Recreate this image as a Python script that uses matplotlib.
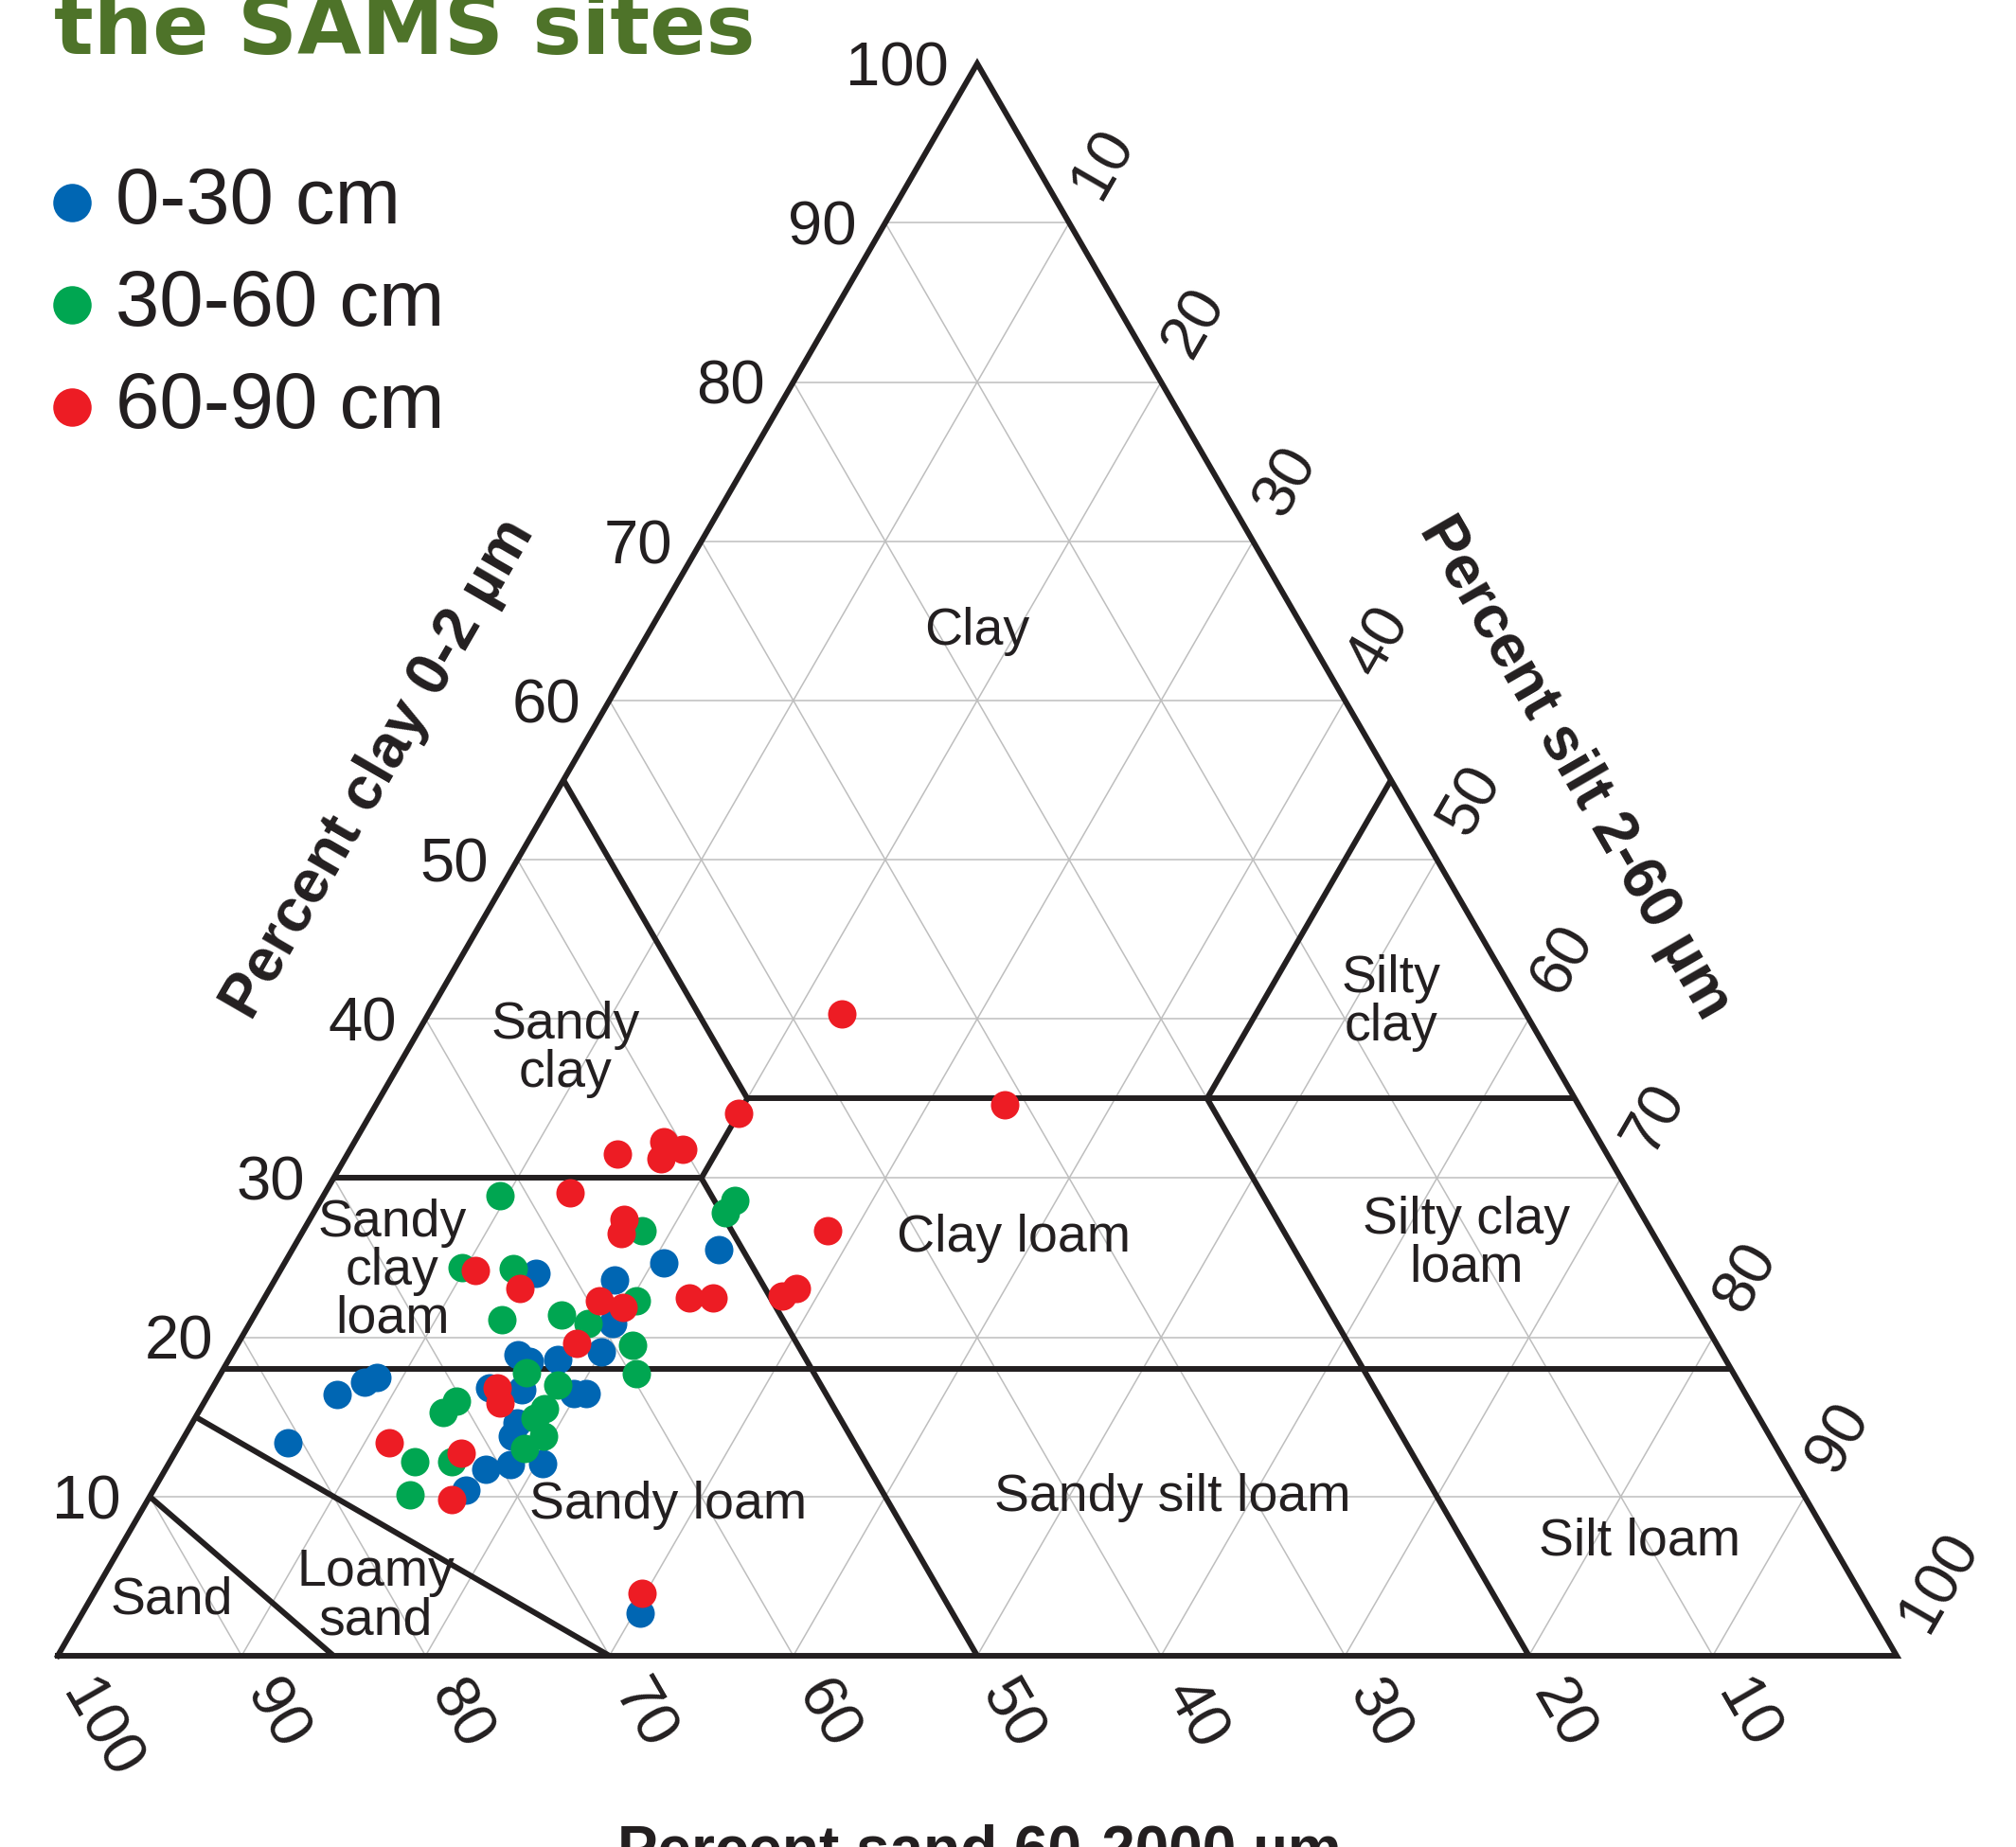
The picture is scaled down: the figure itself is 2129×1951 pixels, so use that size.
import numpy as np
import matplotlib.pyplot as plt

plt.rcParams['font.family'] = ['Liberation Sans', 'DejaVu Sans']

# percent clay (0-2 um) and percent sand (60-2000 um) per sample, silt is the rest
clay_0_30 = [25.5, 24.7, 24.0, 23.6, 20.9, 19.1, 18.6, 18.9, 18.5, 17.5, 17.2, 16.4,
             13.4, 16.8, 16.7, 16.5, 16.5, 14.6, 13.8, 11.7, 12.0, 12.1, 10.4, 2.7]
sand_0_30 = [51.3, 54.7, 62.0, 57.9, 59.4, 60.9, 63.5, 65.5, 65.1, 73.9, 74.7, 76.6,
             80.8, 68.1, 66.4, 63.7, 63.0, 67.7, 68.4, 70.9, 69.4, 67.6, 72.6, 67.0]

clay_30_60 = [28.9, 28.6, 27.8, 26.7, 24.4, 24.3, 22.3, 21.1, 21.4, 20.9, 19.5, 17.7,
              17.8, 17.0, 16.0, 15.3, 15.5, 13.8, 13.0, 12.2, 12.2, 10.1, 14.9]
sand_30_60 = [61.5, 48.9, 49.8, 54.9, 65.8, 63.1, 57.4, 65.3, 61.9, 60.7, 59.0, 59.7,
              65.6, 64.3, 70.3, 71.4, 65.8, 66.7, 68.1, 74.5, 72.5, 75.8, 66.6]

clay_60_90 = [40.3, 34.6, 34.1, 31.5, 32.3, 31.8, 31.2, 29.1, 27.4, 26.5, 26.7, 24.2, 23.1,
              22.3, 21.9, 22.5, 22.5, 22.6, 23.1, 19.6, 16.8, 15.9, 13.4, 12.7, 9.8, 3.9]
sand_60_90 = [37.2, 31.2, 45.9, 53.8, 50.9, 50.1, 51.6, 57.6, 55.5, 56.1, 44.8, 65.2, 63.3,
              59.4, 58.3, 54.4, 53.1, 49.3, 48.3, 62.0, 67.7, 68.0, 75.3, 71.7, 73.7, 66.3]

depth_labels = ["0-30 cm", "30-60 cm", "60-90 cm"]
depth_colors = ["#0066B3", "#00A651", "#ED1C24"]

ticks = [10, 20, 30, 40, 50, 60, 70, 80, 90, 100]

# texture class boundaries as (clay, silt) end points
boundaries = [
    [(18, 0), (18, 82)],
    [(30, 0), (30, 20)],
    [(30, 20), (35, 20)],
    [(35, 20), (35, 65)],
    [(35, 20), (55, 0)],
    [(30, 20), (0, 50)],
    [(35, 45), (55, 45)],
    [(35, 45), (0, 80)],
    [(10, 0), (0, 15)],
    [(15, 0), (0, 30)],
]

classes = ["Clay", "Sandy\nclay", "Sandy\nclay\nloam", "Sandy loam", "Clay loam", "Silty\nclay",
           "Silty clay\nloam", "Sandy silt loam", "Silt loam", "Sand", "Loamy\nsand"]
class_pos = [(50.0, 55.7), (27.6, 33.0), (18.2, 20.9), (33.2, 8.2), (52.0, 22.7), (72.5, 35.5),
             (76.6, 22.4), (60.6, 8.6), (86.0, 6.2), (6.2, 3.0), (17.3, 3.2)]

INK = "#231F20"
H = np.sqrt(3) / 2
TICK_FS = 47
LABEL_FS = 40


def to_xy(clay, silt):
    clay = np.asarray(clay, dtype=float)
    silt = np.asarray(silt, dtype=float)
    return silt + clay / 2, clay * H


fig = plt.figure(figsize=(21.29, 19.51), dpi=100)
ax = fig.add_axes([0, 0, 1, 1])
ax.set_xlim(-3.141, 106.49)
ax.set_ylim(-10.40, 90.06)
ax.axis('off')

# grid
for v in range(10, 100, 10):
    # constant clay
    x, y = to_xy([v, v], [0, 100 - v])
    ax.plot(x, y, color="#BEBEBE", lw=1.1, zorder=1)
    # constant silt
    x, y = to_xy([0, 100 - v], [v, v])
    ax.plot(x, y, color="#BEBEBE", lw=1.1, zorder=1)
    # constant sand
    x, y = to_xy([0, 100 - v], [100 - v, 0])
    ax.plot(x, y, color="#BEBEBE", lw=1.1, zorder=1)

# outer triangle
ax.plot([0, 100, 50, 0], [0, 0, 100 * H, 0], color=INK, lw=4.3,
        solid_joinstyle='miter', zorder=3)

for seg in boundaries:
    c = [p[0] for p in seg]
    s = [p[1] for p in seg]
    x, y = to_xy(c, s)
    ax.plot(x, y, color=INK, lw=4.3, solid_capstyle='butt', zorder=3)

# samples
series = [(clay_30_60, sand_30_60, 1), (clay_0_30, sand_0_30, 0), (clay_60_90, sand_60_90, 2)]
handles = [None] * 3
for clay, sand, i in series:
    clay = np.array(clay)
    silt = 100 - np.array(sand) - clay
    x, y = to_xy(clay, silt)
    handles[i] = ax.scatter(x, y, s=467, color=depth_colors[i], linewidths=0,
                            zorder=4 + i, label=depth_labels[i])

# class names
for name, (px, py) in zip(classes, class_pos):
    ax.text(px, py, name, fontsize=LABEL_FS, color=INK, ha='center', va='center',
            linespacing=0.97, zorder=6)

# tick labels
for t in ticks:
    # clay on the left edge
    ex, ey = to_xy(t, 0)
    ax.text(ex - 1.55, ey - 1.2, str(t), fontsize=TICK_FS, color=INK, ha='right', va='baseline')
    # sand along the bottom
    bx, by = to_xy(0, 100 - t)
    ax.text(bx + 0.9, by - 1.6, str(t), fontsize=TICK_FS, color=INK, rotation=-60,
            rotation_mode='anchor', ha='left', va='center')
    # silt on the right edge
    rx, ry = to_xy(100 - t, t)
    ax.text(rx + 0.9, ry + 1.6, str(t), fontsize=TICK_FS, color=INK, rotation=60,
            rotation_mode='anchor', ha='left', va='center')

ax.text(17.5, 48.25, "Percent clay 0-2 µm", fontsize=46, fontweight='bold', color=INK,
        rotation=60, rotation_mode='anchor', ha='center', va='center')
ax.text(82.5, 48.3, "Percent silt 2-60 µm", fontsize=46, fontweight='bold', color=INK,
        rotation=-60, rotation_mode='anchor', ha='center', va='center')
ax.text(50.1, -11.6, "Percent sand 60-2000 µm", fontsize=46, fontweight='bold', color=INK,
        ha='center', va='baseline')

fig.text(0.0268, 1 - 57 / 1951, "the SAMS sites", fontsize=63, fontweight='bold',
         color="#4E7329", family='DejaVu Sans', ha='left', va='baseline')

leg = ax.legend(handles=handles, labels=depth_labels, loc='upper left',
                bbox_to_anchor=(0.018, 1 - 175 / 1951), bbox_transform=fig.transFigure,
                frameon=False, fontsize=60, markerscale=1.35, handletextpad=0.1,
                handlelength=0.9, labelspacing=0.36, borderpad=0, borderaxespad=0)
for txt in leg.get_texts():
    txt.set_color(INK)

fig.savefig("out.png", dpi=100)
